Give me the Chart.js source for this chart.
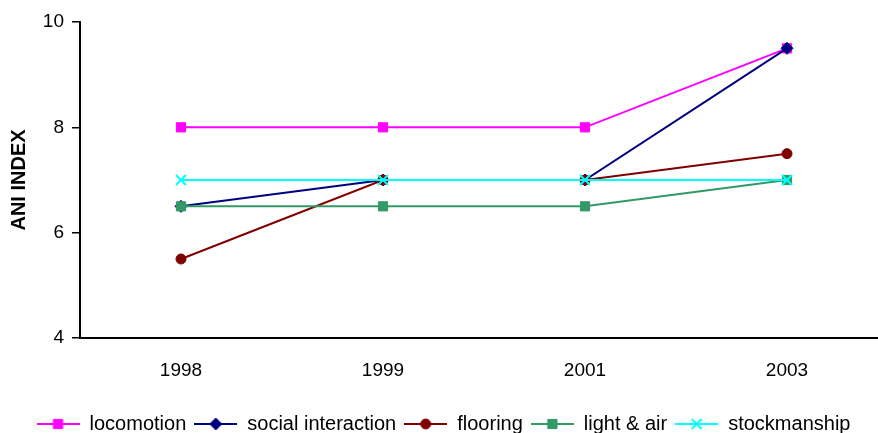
<!DOCTYPE html>
<html>
<head>
<meta charset="utf-8">
<script src="https://cdn.jsdelivr.net/npm/chart.js@4/dist/chart.umd.min.js"></script>
<style>
  html, body { margin: 0; padding: 0; background: #fff; }
  #wrap { width: 878px; height: 433px; }
</style>
</head>
<body>
<div id="wrap"><canvas id="c" width="878" height="433"></canvas></div>
<script>
// Survey years and ANI index per welfare criterion
const years = ['1998', '1999', '2001', '2003'];
const locomotion = [8, 8, 8, 9.5];
const socialInteraction = [6.5, 7, 7, 9.5];
const flooring = [5.5, 7, 7, 7.5];
const lightAndAir = [6.5, 6.5, 6.5, 7];
const stockmanship = [7, 7, 7, 7];
const yTicks = [4, 6, 8, 10];

const FONT = "'Liberation Sans', Arial, sans-serif";

const seriesDefs = [
  { label: 'locomotion',         values: locomotion,        color: '#FF00FF', style: 'rect',     radius: 6.5, bw: 1 },
  { label: 'social interaction', values: socialInteraction, color: '#000080', style: 'rectRot',  radius: 6,   bw: 1 },
  { label: 'flooring',           values: flooring,          color: '#800000', style: 'circle',   radius: 5,   bw: 1 },
  { label: 'light & air',        values: lightAndAir,       color: '#339966', style: 'rect',     radius: 6.5, bw: 1 },
  { label: 'stockmanship',       values: stockmanship,      color: '#00FFFF', style: 'crossRot', radius: 7,   bw: 2 }
];

// Legend swatch: short line with the series marker in its middle
function makeSwatch(def) {
  const cv = document.createElement('canvas');
  cv.width = 43; cv.height = 16;
  const ctx = cv.getContext('2d');
  ctx.strokeStyle = def.color;
  ctx.fillStyle = def.color;
  ctx.lineWidth = 2;
  ctx.beginPath();
  ctx.moveTo(0, 8); ctx.lineTo(43, 8);
  ctx.stroke();
  ctx.lineWidth = def.bw;
  Chart.helpers.drawPoint(ctx, { pointStyle: def.style, radius: def.radius, rotation: 0, borderWidth: def.bw }, 21.5, 8);
  return cv;
}
const swatches = seriesDefs.map(makeSwatch);

const n = seriesDefs.length;
const datasets = seriesDefs.map((d, i) => ({
  label: d.label,
  data: d.values.map((v, k) => ({ x: k, y: v })),
  borderColor: d.color,
  backgroundColor: d.color,
  borderWidth: 2,
  pointStyle: d.style,
  pointRadius: d.radius,
  pointBorderWidth: d.bw,
  pointBorderColor: d.color,
  pointBackgroundColor: d.color,
  tension: 0,
  order: n - i   // later series are painted on top
}));

// Let the plot area run to the right edge of the canvas
const plotFrame = {
  id: 'plotFrame',
  afterLayout(chart) {
    const xs = chart.scales.x;
    xs.right = chart.width - 1;
    xs.width = xs.right - xs.left;
    xs.configure();
    chart.chartArea.right = xs.right;
    chart.chartArea.width = xs.right - chart.chartArea.left;
  }
};

new Chart(document.getElementById('c'), {
  type: 'line',
  data: { datasets },
  plugins: [plotFrame],
  options: {
    responsive: false,
    animation: false,
    layout: { padding: { top: 22, right: -9, left: 0, bottom: -11 } },
    plugins: {
      tooltip: { enabled: false },
      legend: {
        position: 'bottom',
        labels: {
          usePointStyle: true,
          pointStyleWidth: 43,
          boxHeight: 16,
          padding: 8,
          color: '#000',
          font: { family: FONT, size: 20 },
          generateLabels(chart) {
            const items = Chart.defaults.plugins.legend.labels.generateLabels(chart);
            items.forEach(it => { it.pointStyle = swatches[it.datasetIndex]; });
            return items.sort((a, b) => a.datasetIndex - b.datasetIndex);
          }
        }
      }
    },
    scales: {
      x: {
        type: 'linear',
        min: -0.5,
        max: 3.4455,
        afterBuildTicks(scale) { scale.ticks = years.map((_, i) => ({ value: i })); },
        afterFit(scale) { scale.height = 68; },
        grid: { display: false, drawTicks: false },
        border: { display: true, color: '#000', width: 2 },
        ticks: {
          color: '#000',
          padding: 21,
          maxRotation: 0,
          font: { family: FONT, size: 19 },
          callback: v => years[v]
        }
      },
      y: {
        min: 4,
        max: 10,
        afterBuildTicks(scale) { scale.ticks = yTicks.map(v => ({ value: v })); },
        afterFit(scale) { scale.width = 80; },
        grid: { drawOnChartArea: false, drawTicks: true, tickLength: 8, color: '#000', lineWidth: 1.5 },
        border: { display: true, color: '#000', width: 2 },
        ticks: { color: '#000', padding: 8, font: { family: FONT, size: 19 } },
        title: {
          display: true, text: 'ANI INDEX', color: '#000',
          font: { family: FONT, size: 20, weight: 'bold' },
          padding: { top: 7, bottom: 0 }
        }
      }
    }
  }
});
</script>
</body>
</html>
